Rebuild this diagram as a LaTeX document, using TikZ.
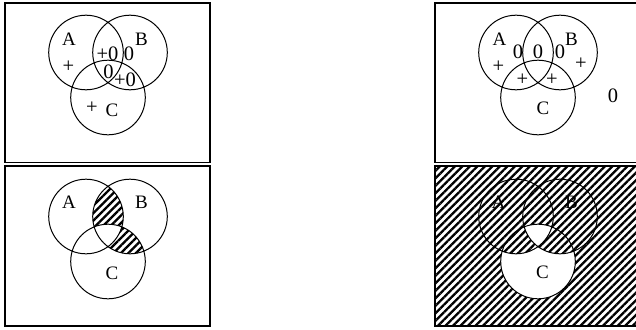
\documentclass[tikz,border=0pt]{standalone}
\usepackage{fontspec}
\setmainfont{Liberation Serif}
\usetikzlibrary{patterns.meta}
\begin{document}
\begin{tikzpicture}[x=1pt,y=-1pt,
  frame/.style={draw,line width=1.3pt},
  ring/.style={draw,line width=1pt},
  lbl/.style={inner sep=0pt,font=\fontsize{19}{19}\selectfont},
  num/.style={inner sep=0pt,font=\fontsize{20.5}{20.5}\selectfont},
  hatch/.style={pattern={Lines[angle=45,distance=5.3pt,line width=2.3pt]}}]
\useasboundingbox (0,0) rectangle (636,329);
\def\R{37.3}
% ---------- top left ----------
\draw[ring] (86,52.5) circle[radius=\R] (130,52.5) circle[radius=\R] (108,97.5) circle[radius=\R];
\node[lbl] (tlA) at (69,39) {A};
\node[lbl] (tlB) at (141.5,39) {B};
\node[num] (tl1) at (68.5,67) {+};
\node[num] (tl2) at (107.5,53.5) {+0};
\node[num] (tl3) at (129,53.5) {0};
\node[num] (tl4) at (108.5,72) {0};
\node[num] (tl5) at (125,80) {+0};
\node[num] (tl6) at (92,108) {+};
\node[lbl] (tlC) at (112,110.5) {C};
\draw[frame] (5,3) rectangle (210,162.5);
% ---------- top right ----------
\draw[ring] (516,52.5) circle[radius=\R] (560,52.5) circle[radius=\R] (538,97.5) circle[radius=\R];
\node[lbl] (trA) at (499.5,39) {A};
\node[lbl] (trB) at (571.5,39) {B};
\node[num] (tr1) at (518,52) {0};
\node[num] (tr2) at (538,52) {0};
\node[num] (tr3) at (560,52) {0};
\node[num] (tr4) at (498.5,67) {+};
\node[num] (tr5) at (581,64) {+};
\node[num] (tr6) at (522.5,80) {+};
\node[num] (tr7) at (552,80) {+};
\node[lbl] (trC) at (543,108) {C};
\node[num] (tr8) at (613,95.5) {0};
\draw[frame] (435,3) rectangle (640,162.5);
% ---------- bottom left ----------
\begin{scope}
  \clip (130,216.5) circle[radius=\R];
  \path[hatch,even odd rule] (86,216.5) circle[radius=\R] (108,261.5) circle[radius=\R];
\end{scope}
\draw[ring] (86,216.5) circle[radius=\R] (130,216.5) circle[radius=\R] (108,261.5) circle[radius=\R];
\node[lbl] (blA) at (69,202.5) {A};
\node[lbl] (blB) at (141.5,202.5) {B};
\node[lbl] (blC) at (112,273.5) {C};
\draw[frame] (5,166) rectangle (210,326);
% ---------- bottom right ----------
\node[lbl] (brA) at (498.5,202.5) {A};
\node[lbl] (brB) at (571.5,202.5) {B};
\path[hatch] (435,166) rectangle (640,326);
\begin{scope}
  \clip (538,261.5) circle[radius=\R];
  \fill[white] (538,261.5) circle[radius=\R];
  \path[hatch,even odd rule] (516,216.5) circle[radius=\R] (560,216.5) circle[radius=\R];
\end{scope}
\draw[ring] (516,216.5) circle[radius=\R] (560,216.5) circle[radius=\R] (538,261.5) circle[radius=\R];
\node[lbl] (brC) at (542.5,272.5) {C};
\draw[frame] (435,166) rectangle (640,326);
\end{tikzpicture}
\end{document}
